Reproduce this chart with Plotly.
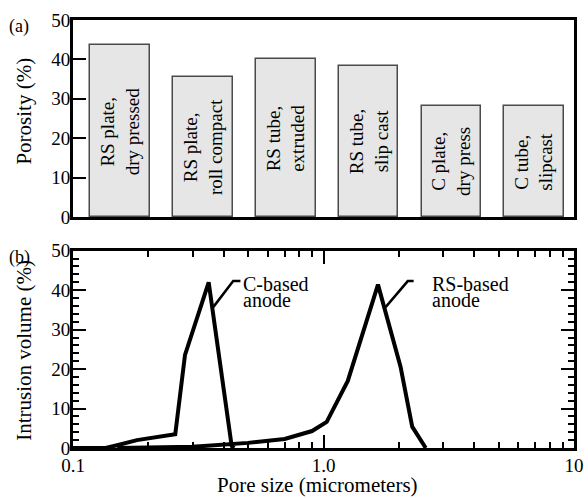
import math
import plotly.graph_objects as go

# ---- data ----
bar_labels = ["RS plate,<br>dry pressed", "RS plate,<br>roll compact", "RS tube,<br>extruded",
              "RS tube,<br>slip cast", "C plate,<br>dry press", "C tube,<br>slipcast"]
porosity = [43.6, 35.5, 40.1, 38.3, 28.2, 28.2]

c_pore = [0.10, 0.135, 0.15, 0.18, 0.256, 0.28, 0.348, 0.43, 0.44]
c_vol = [0.0, 0.0, 0.7, 2.0, 3.5, 23.6, 42.0, 0.5, 0.0]

rs_pore = [0.15, 0.3, 0.5, 0.7, 0.9, 1.03, 1.25, 1.65, 2.03, 2.26, 2.56]
rs_vol = [0.0, 0.3, 1.3, 2.3, 4.3, 6.6, 17.0, 41.4, 20.6, 5.4, 0.0]

# leader lines for the curve labels (pore size, volume)
c_leader_x = [0.363, 0.436, 0.466]
c_leader_y = [35.7, 42.3, 42.3]
rs_leader_x = [1.77, 2.17, 2.29]
rs_leader_y = [35.7, 42.3, 42.3]

x_tick_vals = [0.1, 1, 10]
x_tick_text = ["0.1", "1.0", "10"]

FONT = "Times New Roman, Liberation Serif, DejaVu Serif, serif"
cats = list(range(len(porosity)))

fig = go.Figure()
fig.add_trace(go.Bar(x=cats, y=porosity, width=0.72, marker=dict(color="#e6e6e6",
                     line=dict(color="#4a4a4a", width=1.5)), xaxis="x", yaxis="y",
                     showlegend=False))
for lx, ly, w in [(c_pore, c_vol, 4), (rs_pore, rs_vol, 4),
                  (c_leader_x, c_leader_y, 2.5), (rs_leader_x, rs_leader_y, 2.5)]:
    fig.add_trace(go.Scatter(x=lx, y=ly, mode="lines", line=dict(color="black", width=w),
                             xaxis="x2", yaxis="y2", showlegend=False, hoverinfo="skip"))

ann = []
for c, lab, v in zip(cats, bar_labels, porosity):
    ann.append(dict(x=c, y=v / 2, xref="x", yref="y", text=lab, textangle=-90,
                    showarrow=False, font=dict(family=FONT, size=19, color="black")))

# curve labels (two lines each, tight spacing); annotations on log axis use log10
for txt, xx, yy in [("C-based", 0.468, 41.6), ("anode", 0.468, 37.4),
                    ("RS-based", 2.65, 41.6), ("anode", 2.65, 37.4)]:
    ann.append(dict(x=math.log10(xx), y=yy, xref="x2", yref="y2", text=txt, showarrow=False,
                    xanchor="left", yanchor="middle",
                    font=dict(family=FONT, size=20, color="black")))

def paper_text(text, x, y, size, angle=0):
    ann.append(dict(x=x, y=y, xref="paper", yref="paper", text=text, showarrow=False,
                    textangle=angle, xanchor="center", yanchor="middle",
                    font=dict(family=FONT, size=size, color="black")))

paper_text("(a)", -0.107, 0.985, 18)
paper_text("(b)", -0.107, 0.446, 18)
paper_text("Porosity (%)", -0.097, 0.787, 21, -90)
paper_text("Intrusion volume (%)", -0.097, 0.228, 21, -90)
paper_text("Pore size (micrometers)", 0.489, -0.087, 21)

tickfont = dict(family=FONT, size=19, color="black")

fig.update_layout(
    width=588, height=498,
    margin=dict(l=73, r=14, t=20, b=50, autoexpand=False),
    paper_bgcolor="white", plot_bgcolor="white",
    font=dict(family=FONT, color="black"),
    annotations=ann,
    bargap=0,
    xaxis=dict(domain=[0, 1], range=[-0.57, 5.48], showticklabels=False, ticks="",
               showgrid=False, zeroline=False, showline=True, linewidth=3,
               linecolor="black", mirror=True, anchor="y", automargin=False),
    yaxis=dict(domain=[0.5397, 1.0], range=[0, 50], dtick=10, ticks="inside", ticklen=13,
               tickwidth=2, tickcolor="black", showgrid=False, zeroline=False,
               showline=True, linewidth=3, linecolor="black", mirror=True,
               tickfont=tickfont, ticklabelstandoff=-4, automargin=False, anchor="x"),
    xaxis2=dict(domain=[0, 1], type="log", range=[-1, 1], tickvals=x_tick_vals,
                ticktext=x_tick_text, ticks="inside", ticklen=13, tickwidth=2,
                tickcolor="black", minor=dict(ticks="inside", ticklen=6, tickwidth=2,
                                               tickcolor="black", dtick="D1", showgrid=False),
                showgrid=False, zeroline=False, showline=True, linewidth=3,
                linecolor="black", mirror="ticks", tickfont=tickfont, automargin=False,
                ticklabelstandoff=-2, anchor="y2"),
    yaxis2=dict(domain=[0, 0.461], range=[0, 50], dtick=10, ticks="inside", ticklen=13,
                tickwidth=2, tickcolor="black",
                minor=dict(ticks="inside", ticklen=6, tickwidth=2, tickcolor="black",
                           dtick=2, showgrid=False),
                showgrid=False, zeroline=False, showline=True, linewidth=3,
                linecolor="black", mirror="ticks", tickfont=tickfont, ticklabelstandoff=-4,
                automargin=False, anchor="x2"),
)

fig.write_html("out.html", config={"displayModeBar": False},
               post_script="document.body.style.margin='0px';")
